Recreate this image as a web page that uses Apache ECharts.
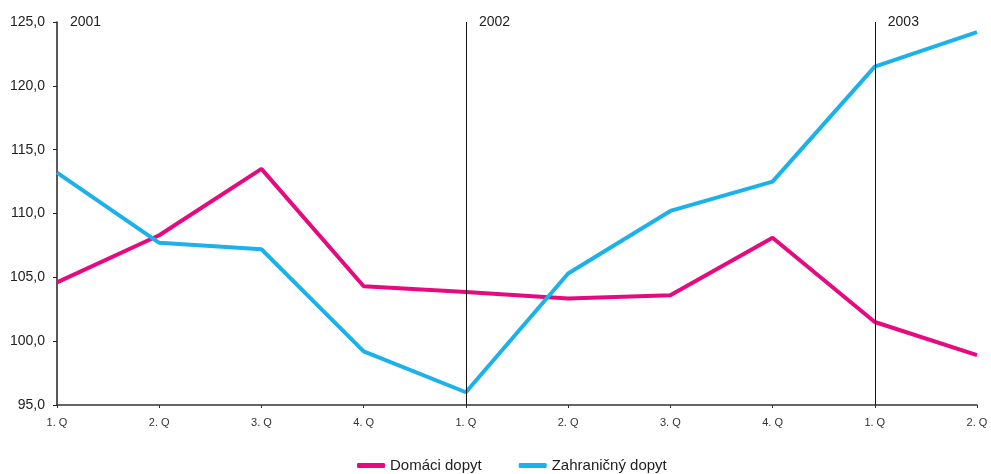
<!DOCTYPE html>
<html><head><meta charset="utf-8">
<script src="https://cdn.jsdelivr.net/npm/echarts@6/dist/echarts.min.js"></script>
<style>html,body{margin:0;padding:0;background:#fff}#c{width:991px;height:474px}</style>
</head><body><div id="c"></div>
<script>
var categories = ['1. Q','2. Q','3. Q','4. Q','1. Q','2. Q','3. Q','4. Q','1. Q','2. Q'];
var domaci = [104.6, 108.3, 113.5, 104.3, 103.85, 103.35, 103.6, 108.1, 101.5, 98.9];
var zahranicny = [113.2, 107.7, 107.2, 99.2, 96.0, 105.3, 110.2, 112.5, 121.5, 124.2];
var years = ['2001','2002','2003'];
var yearIdx = [0, 4, 8];
var seriesNames = ['Domáci dopyt','Zahraničný dopyt'];

var chart = echarts.init(document.getElementById('c'));
var font = 'Liberation Sans, Arial, sans-serif';
chart.setOption({
  animation:false,
  textStyle:{fontFamily:font},
  grid:{left:57,right:14,top:22,bottom:69},
  legend:{top:458,left:357,padding:0,itemWidth:28,itemHeight:5,itemGap:37,icon:'roundRect',
    textStyle:{fontSize:15,color:'#222',fontFamily:font},data:seriesNames},
  xAxis:{type:'category',data:categories,boundaryGap:false,
    axisLine:{lineStyle:{color:'#333',width:1.5}},
    axisTick:{show:true,length:3,lineStyle:{color:'#333'}},
    axisLabel:{fontSize:11,color:'#333',margin:12,fontFamily:font},
    splitLine:{show:false}},
  yAxis:{type:'value',min:95,max:125,interval:5,
    axisLine:{show:true,lineStyle:{color:'#222',width:1.5}},
    axisTick:{show:true,length:4,lineStyle:{color:'#222'}},
    axisLabel:{fontSize:14,color:'#222',margin:12,fontFamily:font,
      formatter:function(v){return v.toFixed(1).replace('.',',');}},
    splitLine:{show:false}},
  series:[
    {name:seriesNames[0],type:'line',data:domaci,symbol:'none',
      lineStyle:{color:'#e6097f',width:4},itemStyle:{color:'#e6097f'},
      markLine:{silent:true,symbol:'none',label:{show:false},
        lineStyle:{color:'#111',width:1,type:'solid'},
        data:yearIdx.slice(1).map(function(i){return {xAxis:i};})},
      markPoint:{symbol:'circle',symbolSize:0,silent:true,
        label:{show:true,position:'right',distance:13,color:'#222',fontSize:14,fontFamily:font,
          formatter:function(p){return p.name;}},
        data:yearIdx.map(function(i,k){return {name:years[k],coord:[i,125]};})}
    },
    {name:seriesNames[1],type:'line',data:zahranicny,symbol:'none',
      lineStyle:{color:'#1bb1ea',width:4},itemStyle:{color:'#1bb1ea'}}
  ]
});
</script></body></html>
